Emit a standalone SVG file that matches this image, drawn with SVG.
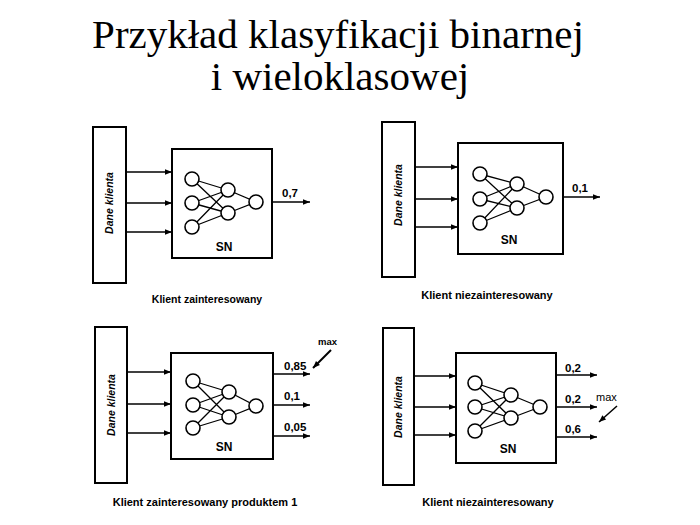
<svg xmlns="http://www.w3.org/2000/svg" width="700" height="525" viewBox="0 0 700 525">
<defs>
<marker id="ah" viewBox="0 0 10 10" refX="10" refY="5" markerWidth="9" markerHeight="7" markerUnits="userSpaceOnUse" orient="auto">
<path d="M0,1 L10,5 L0,9 Z" fill="#000"/>
</marker>
<style>
.title{font-family:"Liberation Serif","Times New Roman",serif;font-size:41px;fill:#000;text-anchor:middle}
.box{fill:#fff;stroke:#000;stroke-width:2}
.n{fill:#fff;stroke:#000;stroke-width:1.6}
.w{stroke:#000;stroke-width:1.3;fill:none}
.arr{stroke:#000;stroke-width:1.5;fill:none;marker-end:url(#ah)}
.lbl{font-family:"Liberation Sans",Arial,sans-serif;font-size:11.5px;font-weight:bold;fill:#000}
.sn{font-family:"Liberation Sans",Arial,sans-serif;font-size:12px;font-weight:bold;fill:#000;text-anchor:middle}
.cap{font-family:"Liberation Sans",Arial,sans-serif;font-size:11px;font-weight:bold;fill:#000;text-anchor:middle}
.dk{font-family:"Liberation Sans",Arial,sans-serif;font-size:10.5px;font-weight:bold;font-style:italic;fill:#000;text-anchor:middle}
</style>
</defs>
<rect width="700" height="525" fill="#fff"/>
<text class="title" x="338" y="48">Przykład klasyfikacji binarnej</text>
<text class="title" x="340" y="90">i wieloklasowej</text>

<!-- Panel 1 -->
<g id="p1">
<g id="p1-dane"><rect class="box" x="93" y="127" width="33" height="156"/>
<text class="dk" transform="translate(113,203) rotate(-90)">Dane klienta</text></g>
<g id="p1-sn"><rect class="box" x="172" y="149" width="100" height="109"/>
<g class="w"><path d="M192,179L228,190M192,179L228,213M192,203L228,190M192,203L228,213M192,227L228,190M192,227L228,213M228,190L256,202M228,213L256,202"/></g>
<circle class="n" cx="192" cy="179" r="7"/><circle class="n" cx="192" cy="203" r="7"/><circle class="n" cx="192" cy="227" r="7"/>
<circle class="n" cx="228" cy="190" r="7"/><circle class="n" cx="228" cy="213" r="7"/>
<circle class="n" cx="256" cy="202" r="7"/>
<text class="sn" x="224" y="251">SN</text></g>
<text class="cap" x="207" y="303" style="font-size:10.5px">Klient zainteresowany</text>
</g>

<!-- Panel 2 -->
<g id="p2">
<g id="p2-dane"><rect class="box" x="382" y="122" width="33" height="155"/>
<text class="dk" transform="translate(402,195) rotate(-90)">Dane klienta</text></g>
<g id="p2-sn"><rect class="box" x="458" y="143" width="105" height="111"/>
<g class="w"><path d="M480,174L517,184M480,174L517,208M480,199L517,184M480,199L517,208M480,223L517,184M480,223L517,208M517,184L546,197M517,208L546,197"/></g>
<circle class="n" cx="480" cy="174" r="7"/><circle class="n" cx="480" cy="199" r="7"/><circle class="n" cx="480" cy="223" r="7"/>
<circle class="n" cx="517" cy="184" r="7"/><circle class="n" cx="517" cy="208" r="7"/>
<circle class="n" cx="546" cy="197" r="7"/>
<text class="sn" x="509" y="244">SN</text></g>
<text class="cap" x="487" y="299">Klient niezainteresowany</text>
</g>

<!-- Panel 3 -->
<g id="p3">
<g id="p3-dane"><rect class="box" x="95" y="327" width="32" height="156"/>
<text class="dk" transform="translate(115,405) rotate(-90)">Dane klienta</text></g>
<g id="p3-sn"><rect class="box" x="171" y="353" width="102" height="106"/>
<g class="w"><path d="M193,381L229,392M193,381L229,417M193,405L229,392M193,405L229,417M193,428L229,392M193,428L229,417M229,392L256,406M229,417L256,406"/></g>
<circle class="n" cx="193" cy="381" r="7"/><circle class="n" cx="193" cy="405" r="7"/><circle class="n" cx="193" cy="428" r="7"/>
<circle class="n" cx="229" cy="392" r="7"/><circle class="n" cx="229" cy="417" r="7"/>
<circle class="n" cx="256" cy="406" r="7"/>
<text class="sn" x="224" y="451">SN</text></g>
<text class="lbl" x="284" y="370">0,85</text>
<text class="lbl" x="284" y="400">0,1</text>
<text class="lbl" x="284" y="431">0,05</text>
<text class="lbl" x="318" y="345" style="font-size:9.5px">max</text>
<text class="cap" x="205" y="506">Klient zainteresowany produktem 1</text>
</g>

<!-- Panel 4 -->
<g id="p4">
<g id="p4-dane"><rect class="box" x="383" y="328" width="31" height="157"/>
<text class="dk" transform="translate(402,407) rotate(-90)">Dane klienta</text></g>
<g id="p4-sn"><rect class="box" x="456" y="353" width="100" height="110"/>
<g class="w"><path d="M475,383L511,395M475,383L511,418M475,407L511,395M475,407L511,418M475,431L511,395M475,431L511,418M511,395L540,407M511,418L540,407"/></g>
<circle class="n" cx="475" cy="383" r="7"/><circle class="n" cx="475" cy="407" r="7"/><circle class="n" cx="475" cy="431" r="7"/>
<circle class="n" cx="511" cy="395" r="7"/><circle class="n" cx="511" cy="418" r="7"/>
<circle class="n" cx="540" cy="407" r="7"/>
<text class="sn" x="508" y="453">SN</text></g>
<text class="lbl" x="565" y="372">0,2</text>
<text class="lbl" x="565" y="403">0,2</text>
<text class="lbl" x="565" y="433">0,6</text>
<text class="lbl" x="596" y="401" style="font-weight:normal;font-size:11px">max</text>
<text class="cap" x="488" y="506">Klient niezainteresowany</text>
</g>

<g id="connectors">
<line class="arr" x1="126" y1="172" x2="172" y2="172"/>
<line class="arr" x1="126" y1="203" x2="172" y2="203"/>
<line class="arr" x1="126" y1="232" x2="172" y2="232"/>
<line class="arr" x1="272" y1="202" x2="310" y2="202"/>
<text class="lbl" x="282" y="197">0,7</text>

<line class="arr" x1="415" y1="167" x2="458" y2="167"/>
<line class="arr" x1="415" y1="199" x2="458" y2="199"/>
<line class="arr" x1="415" y1="227" x2="458" y2="227"/>
<line class="arr" x1="563" y1="197" x2="600" y2="197"/>
<text class="lbl" x="572" y="192">0,1</text>

<line class="arr" x1="127" y1="372" x2="171" y2="372"/>
<line class="arr" x1="127" y1="404" x2="171" y2="404"/>
<line class="arr" x1="127" y1="433" x2="171" y2="433"/>
<line class="arr" x1="273" y1="374" x2="310" y2="374"/>
<line class="arr" x1="273" y1="405" x2="310" y2="405"/>
<line class="arr" x1="273" y1="436" x2="310" y2="436"/>
<line class="arr" x1="331" y1="350" x2="313" y2="368" style="stroke-width:2"/>

<line class="arr" x1="414" y1="376" x2="456" y2="376"/>
<line class="arr" x1="414" y1="407" x2="456" y2="407"/>
<line class="arr" x1="414" y1="435" x2="456" y2="435"/>
<line class="arr" x1="556" y1="375" x2="597" y2="375"/>
<line class="arr" x1="556" y1="407" x2="597" y2="407"/>
<line class="arr" x1="556" y1="437" x2="597" y2="437"/>
<line class="arr" x1="617" y1="406" x2="599" y2="422"/>
</g>
</svg>
